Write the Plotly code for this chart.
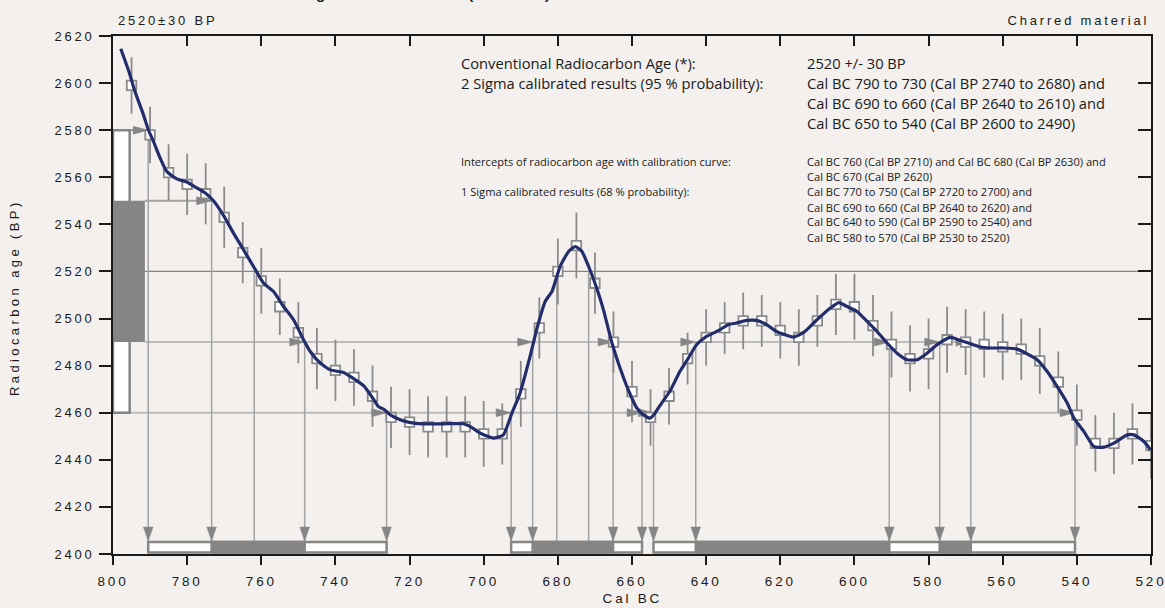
import numpy as np
import plotly.graph_objects as go

# ---------------- data ----------------
title_text = "Calibration of Radiocarbon Age to Calendar Years (INTCAL13)"
sample_label = "2520±30 BP"
material_label = "Charred material"
x_title = "Cal BC"
y_title = "Radiocarbon age (BP)"

x_ticks = [800, 780, 760, 740, 720, 700, 680, 660, 640, 620, 600, 580, 560, 540, 520]
y_ticks = [2400, 2420, 2440, 2460, 2480, 2500, 2520, 2540, 2560, 2580, 2600, 2620]

# calibration data points (Cal BC, BP, 1-sigma error)
data_years = [795, 790, 785, 780, 775, 770, 765, 760, 755, 750, 745, 740, 735, 730,
              725, 720, 715, 710, 705, 700, 695, 690, 685, 680, 675, 670, 665, 660,
              655, 650, 645, 640, 635, 630, 625, 620, 615, 610, 605, 600, 595, 590,
              585, 580, 575, 570, 565, 560, 555, 550, 545, 540, 535, 530, 525, 520]
data_bp = [2599, 2578, 2562, 2557, 2553, 2543, 2528, 2516, 2505, 2494, 2483, 2478, 2475, 2467,
           2458, 2456, 2454, 2454, 2454, 2451, 2451, 2468, 2496, 2520, 2531, 2515, 2490, 2469,
           2458, 2467, 2483, 2492, 2496, 2499, 2499, 2495, 2492, 2499, 2506, 2505, 2497, 2489,
           2483, 2485, 2491, 2490, 2489, 2488, 2487, 2482, 2473, 2459, 2447, 2447, 2451, 2446]
data_err = [12, 12, 12, 13, 13, 13, 13, 14, 12, 13, 13, 13, 12, 13,
            13, 14, 13, 13, 13, 14, 13, 14, 13, 14, 14, 13, 13, 13,
            12, 12, 11, 12, 11, 12, 11, 12, 12, 11, 13, 14, 13, 14,
            14, 15, 14, 14, 14, 14, 13, 14, 13, 13, 12, 13, 13, 14]

# calibration curve (Cal BC, BP)
curve_years = [797.9, 795.6, 794.1, 791.8, 790.5, 789.1, 787.3, 785.5, 782.8, 780.1, 777.4, 775.2,
               772.9, 770.2, 767.5, 764.8, 762.1, 759.4, 756.7, 754.0, 751.3, 748.6, 746.8, 744.1,
               741.4, 737.8, 735.1, 732.4, 730.2, 728.4, 727.0, 725.2, 722.5, 719.8, 716.2, 710.9,
               705.5, 703.6, 700.9, 697.4, 694.7, 692.4, 690.2, 687.5, 685.6, 683.4, 681.6, 679.4,
               677.1, 675.3, 673.5, 671.7, 669.5, 667.7, 665.4, 663.2, 661.0, 658.7, 656.9, 655.1,
               653.8, 652.0, 649.8, 647.1, 644.8, 642.6, 639.9, 638.1, 636.3, 634.1, 631.8, 629.1,
               626.4, 623.7, 621.0, 616.4, 613.7, 610.1, 606.5, 604.2, 602.0, 599.3, 596.6, 593.9,
               591.2, 588.5, 585.8, 583.1, 580.4, 577.7, 574.1, 571.4, 568.7, 566.0, 563.6, 559.7,
               556.1, 553.4, 550.7, 548.0, 545.3, 542.6, 540.8, 538.1, 535.4, 532.7, 530.0, 526.4,
               524.6, 521.9, 520.1]
curve_bp = [2614.6, 2604.4, 2596.5, 2586.6, 2580.3, 2575.3, 2568.2, 2562.5, 2559.3, 2558.0, 2555.5, 2553.4,
            2550.0, 2543.8, 2536.3, 2529.2, 2522.1, 2515.1, 2511.5, 2505.1, 2499.5, 2491.0, 2486.0, 2481.1,
            2478.2, 2477.1, 2474.5, 2471.5, 2466.8, 2462.6, 2461.5, 2459.1, 2457.0, 2455.8, 2455.3, 2455.3,
            2455.3, 2454.1, 2451.3, 2449.2, 2450.6, 2459.8, 2468.3, 2483.9, 2496.0, 2507.3, 2511.5, 2522.1,
            2528.5, 2530.6, 2528.5, 2522.1, 2512.9, 2503.7, 2489.6, 2478.9, 2469.7, 2462.0, 2459.1, 2457.7,
            2459.8, 2464.1, 2469.0, 2477.5, 2483.2, 2488.9, 2492.4, 2493.8, 2495.2, 2497.4, 2498.1, 2499.2,
            2499.2, 2497.4, 2494.5, 2492.1, 2494.1, 2499.5, 2504.5, 2506.8, 2505.1, 2503.0, 2498.8, 2494.5,
            2489.6, 2485.3, 2482.5, 2482.5, 2485.3, 2488.9, 2492.0, 2490.7, 2489.3, 2487.9, 2487.5, 2487.5,
            2487.0, 2485.0, 2482.5, 2477.5, 2471.1, 2464.1, 2457.7, 2452.0, 2445.6, 2445.4, 2447.1, 2450.6,
            2450.6, 2447.8, 2444.2]

measured_age = 2520
sigma1_levels = [2550, 2490]
sigma2_levels = [2580, 2460]

intercept_years = [761.9, 680.3, 671.7]
sigma2_ranges = [(790.5, 726.2), (692.6, 657.3), (654.2, 540.5)]
sigma1_ranges = [(773.4, 748.3), (686.8, 665.1), (642.8, 590.6), (577.0, 568.6)]

texts_big_left = ["Conventional Radiocarbon Age (*):",
                  "2 Sigma calibrated results (95 % probability):"]
texts_big_right = ["2520 +/- 30 BP",
                   "Cal BC 790 to 730 (Cal BP 2740 to 2680) and",
                   "Cal BC 690 to 660 (Cal BP 2640 to 2610) and",
                   "Cal BC 650 to 540 (Cal BP 2600 to 2490)"]
texts_small_left = ["Intercepts of radiocarbon age with calibration curve:",
                    "1 Sigma calibrated results (68 % probability):"]
texts_small_right = ["Cal BC 760 (Cal BP 2710) and Cal BC 680 (Cal BP 2630) and",
                     "Cal BC 670 (Cal BP 2620)",
                     "Cal BC 770 to 750 (Cal BP 2720 to 2700) and",
                     "Cal BC 690 to 660 (Cal BP 2640 to 2620) and",
                     "Cal BC 640 to 590 (Cal BP 2590 to 2540) and",
                     "Cal BC 580 to 570 (Cal BP 2530 to 2520)"]

# ---------------- style / geometry ----------------
BG = "#f3f0ed"
INK = "#1a1a1a"
CURVE = "#232d6c"
DGREY = "#858585"
MGREY = "#a3a3a3"
LGREY = "#bdbdbd"
X0, X1 = 800, 520
Y0, Y1 = 2400, 2620
L, R, T, B = 113, 14, 36, 54
W, H = 1165, 608
PW, PH = W - L - R, H - T - B
PX_X = PW / (X0 - X1)      # px per year
PX_Y = PH / (Y1 - Y0)      # px per BP
BAR_TOP = 2405.5
LBAR_W = 4.5               # years (white 2-sigma bar)
LBOX_W = 8.6               # years (grey 1-sigma box)
AXFONT = "Liberation Sans, Arial, sans-serif"
TXFONT = "Open Sans, Noto Sans, sans-serif"
BIG = 14.7
SMALL = 11.1

order = np.argsort(curve_years)
cy_sorted = np.array(curve_years)[order]
cb_sorted = np.array(curve_bp)[order]


def level_of(year, levels):
    v = np.interp(year, cy_sorted, cb_sorted)
    return min(levels, key=lambda lv: abs(lv - v))


fig = go.Figure()


def hline(x_from, x_to, y, color, width):
    fig.add_trace(go.Scatter(x=[x_from, x_to], y=[y, y], mode="lines",
                             line=dict(color=color, width=width), hoverinfo="skip"))


s2_bounds = [(yr, level_of(yr, sigma2_levels)) for rg in sigma2_ranges for yr in rg]
s1_bounds = [(yr, level_of(yr, sigma1_levels)) for rg in sigma1_ranges for yr in rg]

hline(X0, X1, measured_age, DGREY, 1.3)
for lv in sigma2_levels:
    ends = [yr for yr, l in s2_bounds if l == lv]
    hline(X0 - LBAR_W, min(ends), lv, MGREY if lv == sigma2_levels[0] else LGREY, 2)
for lv in sigma1_levels:
    ends = [yr for yr, l in s1_bounds if l == lv]
    hline(X0 - LBOX_W, min(ends), lv, MGREY if lv == sigma1_levels[0] else LGREY, 2)

# vertical drop lines
vx, vy = [], []
for yr, lv in s2_bounds + s1_bounds:
    vx += [yr, yr, None]
    vy += [lv, BAR_TOP, None]
for yr in intercept_years:
    vx += [yr, yr, None]
    vy += [measured_age, BAR_TOP, None]
fig.add_trace(go.Scatter(x=vx, y=vy, mode="lines", line=dict(color=MGREY, width=1.5),
                         hoverinfo="skip"))

# arrow heads
ax, ay = [], []
dx, dy = 15 / PX_X, 4.0 / PX_Y
for yr, lv in s2_bounds + s1_bounds:
    ax += [yr, yr + dx, yr + dx, yr, None]
    ay += [lv, lv + dy, lv - dy, lv, None]
hw, hh = 4.8 / PX_X, 14 / PX_Y
for yr, lv in s2_bounds + s1_bounds:
    ax += [yr, yr + hw, yr - hw, yr, None]
    ay += [BAR_TOP, BAR_TOP + hh, BAR_TOP + hh, BAR_TOP, None]
fig.add_trace(go.Scatter(x=ax, y=ay, mode="lines", fill="toself", fillcolor=DGREY,
                         line=dict(color=DGREY, width=0.5), hoverinfo="skip"))

# data squares with error bars
fig.add_trace(go.Scatter(
    x=data_years, y=data_bp, mode="markers",
    marker=dict(symbol="square", size=9.5, color="white", line=dict(color="#8a8a8a", width=1.8)),
    error_y=dict(type="data", array=data_err, visible=True, thickness=1.8, width=0, color="#8a8a8a"),
    hoverinfo="skip"))

# calibration curve
fig.add_trace(go.Scatter(x=curve_years, y=curve_bp, mode="lines",
                         line=dict(color=CURVE, width=3.2, shape="spline", smoothing=0.5),
                         hoverinfo="skip"))

# dummy trace for mirrored (inside-tick) axes
fig.add_trace(go.Scatter(x=[X0], y=[Y0], xaxis="x2", yaxis="y2", mode="markers",
                         marker=dict(opacity=0), hoverinfo="skip"))

# bars (shapes)
shapes = []
shapes.append(dict(type="rect", xref="x", yref="y", x0=X0, x1=X0 - LBAR_W,
                   y0=sigma2_levels[1], y1=sigma2_levels[0],
                   fillcolor="white", line=dict(color=DGREY, width=2.5), layer="above"))
shapes.append(dict(type="rect", xref="x", yref="y", x0=X0, x1=X0 - LBOX_W,
                   y0=sigma1_levels[1], y1=sigma1_levels[0],
                   fillcolor=DGREY, line=dict(color=DGREY, width=0), layer="above"))
for a, b in sigma2_ranges:
    shapes.append(dict(type="rect", xref="x", yref="y", x0=a, x1=b, y0=Y0 + 0.6, y1=BAR_TOP - 0.4,
                       fillcolor="white", line=dict(color=DGREY, width=2.5), layer="above"))
for a, b in sigma1_ranges:
    shapes.append(dict(type="rect", xref="x", yref="y", x0=a, x1=b, y0=Y0 + 0.6, y1=BAR_TOP - 0.4,
                       fillcolor=DGREY, line=dict(color=DGREY, width=2.5), layer="above"))


def pxx(px):
    return (px - L) / PW


def pxy(py):
    return (H - B - py) / PH


annotations = []


def ann(text, px, py, size, family, xanchor="left", color=INK, **kw):
    annotations.append(dict(text=text, x=pxx(px), y=pxy(py), xref="paper", yref="paper",
                            xanchor=xanchor, yanchor="middle", showarrow=False,
                            font=dict(family=family, size=size, color=color), **kw))


ann("<b>" + title_text + "</b>", 107, -6, 15, "Arial, sans-serif")
ann(sample_label, 167, 20.5, 13, AXFONT, xanchor="center")
ann(material_label, 1078, 21, 13, AXFONT, xanchor="center")
ann(x_title, 632, 598, 13.5, AXFONT, xanchor="center")
ann(y_title, 14, 298, 13, AXFONT, xanchor="center", textangle=-90)

for i, t in enumerate(texts_big_left):
    ann(t, 459, 63 + 20 * i, BIG, TXFONT)
for i, t in enumerate(texts_big_right):
    ann(t, 805, 63 + 20 * i, BIG, TXFONT)
ann(texts_small_left[0], 459, 161.5, SMALL, TXFONT)
ann(texts_small_left[1], 459, 192, SMALL, TXFONT)
small_y = [161.5, 176.5, 192, 207, 222, 237.5]
for t, yy in zip(texts_small_right, small_y):
    ann(t, 805, yy, SMALL, TXFONT)

axis_common = dict(showgrid=False, zeroline=False, showline=True, linecolor=INK, linewidth=1.5,
                   tickcolor=INK, tickwidth=1.5, automargin=False)

fig.update_layout(
    width=W, height=H,
    margin=dict(l=L, r=R, t=T, b=B, pad=0),
    paper_bgcolor=BG, plot_bgcolor=BG,
    showlegend=False,
    xaxis=dict(range=[X0, X1], tickvals=x_ticks, ticktext=[str(v) for v in x_ticks],
               ticks="outside", ticklen=9, ticklabelstandoff=5,
               tickfont=dict(family=AXFONT, size=13.5, color=INK), **axis_common),
    yaxis=dict(range=[Y0, Y1], tickvals=y_ticks, ticktext=[str(v) for v in y_ticks],
               ticks="outside", ticklen=12, ticklabelstandoff=2,
               tickfont=dict(family=AXFONT, size=13, color=INK), **axis_common),
    xaxis2=dict(range=[X0, X1], overlaying="x", side="top", anchor="y2", tickvals=x_ticks,
                ticks="inside", ticklen=10, showticklabels=False, **axis_common),
    yaxis2=dict(range=[Y0, Y1], overlaying="y", side="right", anchor="x2", tickvals=y_ticks,
                ticks="inside", ticklen=13, showticklabels=False, **axis_common),
    shapes=shapes,
    annotations=annotations,
)

post = """
document.body.style.margin = '0';
document.body.style.padding = '0';
var gd = document.getElementById('{plot_id}');
function spaceOut(){
  gd.querySelectorAll('text').forEach(function(t){
    var ff = t.style.fontFamily || '';
    if (ff.indexOf('Liberation') >= 0) {
      var s = '2.8px';
      if ((t.textContent || '').indexOf('Radiocarbon age') === 0) { s = '3.4px'; }
      t.style.letterSpacing = s;
    }
  });
}
spaceOut();
gd.on('plotly_afterplot', spaceOut);
"""

fig.write_html("out.html", post_script=post, config={"displayModeBar": False})
